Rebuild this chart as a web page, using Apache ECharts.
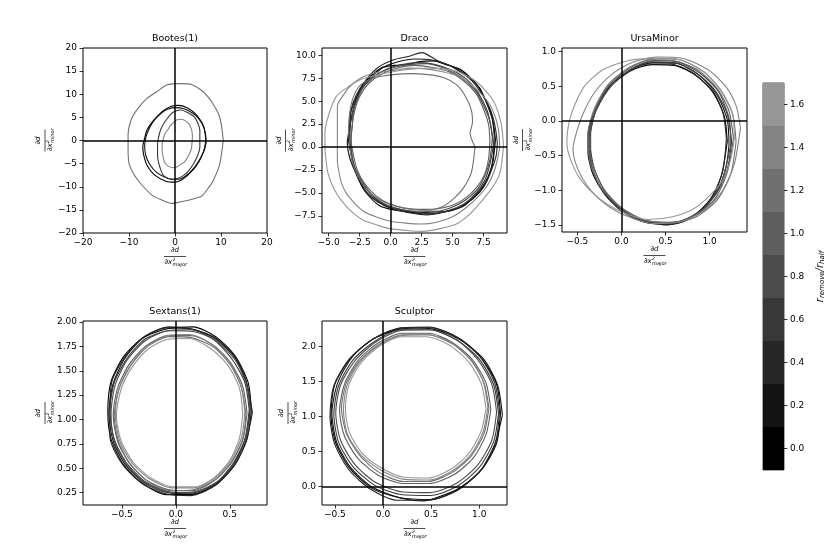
<!DOCTYPE html>
<html><head><meta charset="utf-8">
<script src="https://cdn.jsdelivr.net/npm/echarts@6/dist/echarts.min.js"></script>
<style>html,body{margin:0;padding:0;background:#fff}#c{width:830px;height:554px}</style>
</head><body><div id="c"></div>
<script>
// ---------- colour levels (r_remove / r_half) ----------
const levels = [0.0, 0.2, 0.4, 0.6, 0.8, 1.0, 1.2, 1.4, 1.6];
const levelLabels = ['0.0','0.2','0.4','0.6','0.8','1.0','1.2','1.4','1.6'];
const levelColors = ['#000000','#131313','#262626','#383838','#4b4b4b','#5e5e5e','#707070','#838383','#969696'];

// ---------- panel titles, ranges and ticks ----------
const panelTitles = ['Bootes(1)', 'Draco', 'UrsaMinor', 'Sextans(1)', 'Sculptor'];
const xRanges = [[-20, 20], [-5.54, 9.38], [-0.675, 1.424], [-0.86, 0.845], [-0.633, 1.288]];
const yRanges = [[-20, 20], [-9.38, 10.8], [-1.60, 1.05], [0.124, 2.01], [-0.267, 2.366]];
const xTicks = [[-20, -10, 0, 10, 20], [-5, -2.5, 0, 2.5, 5, 7.5], [-0.5, 0, 0.5, 1.0], [-0.5, 0, 0.5], [-0.5, 0, 0.5, 1.0]];
const yTicks = [[-20, -15, -10, -5, 0, 5, 10, 15, 20], [-7.5, -5, -2.5, 0, 2.5, 5, 7.5, 10], [-1.5, -1.0, -0.5, 0, 0.5, 1.0], [0.25, 0.5, 0.75, 1.0, 1.25, 1.5, 1.75, 2.0], [0, 0.5, 1.0, 1.5, 2.0]];
const xDecimals = [0, 1, 1, 1, 1];
const yDecimals = [0, 1, 1, 2, 1];

// ---------- Bootes(1) contours ----------
const bootes_r00 = [[6.7,0.2],[6.5,1.8],[6.3,2.9],[5.5,4.4],[4.3,5.9],[2.6,7.1],[0.8,7.6],[-0.8,7.4],[-2.3,6.6],[-3.7,5.4],[-5.1,3.8],[-6.1,2.2],[-6.6,0.5],[-7.0,-1.4],[-6.7,-3.6],[-6.0,-5.5],[-4.4,-7.5],[-2.0,-8.8],[0.0,-9.0],[1.5,-8.5],[3.3,-7.0],[4.6,-5.5],[5.7,-3.6],[6.4,-1.7],[6.7,0.2]];
const bootes_r02 = [[6.8,-0.3],[6.6,1.6],[6.0,3.4],[5.0,4.9],[3.7,6.0],[1.8,6.9],[0.2,7.1],[-1.5,6.8],[-3.0,5.9],[-4.5,4.4],[-5.6,2.6],[-6.3,0.8],[-6.6,-1.2],[-6.3,-3.4],[-5.4,-5.3],[-4.0,-6.9],[-2.3,-7.9],[-0.5,-8.4],[1.4,-8.2],[3.0,-7.1],[4.4,-5.6],[5.6,-3.7],[6.4,-2.0],[6.8,-0.3]];
const bootes_r06 = [[5.4,0.0],[5.4,2.2],[4.9,3.9],[4.2,5.1],[2.8,6.0],[1.3,6.6],[0.0,6.3],[-1.0,5.6],[-1.8,4.6],[-2.6,3.4],[-3.2,2.1],[-3.6,0.5],[-3.8,-1.1],[-3.8,-3.0],[-3.6,-4.7],[-3.1,-6.3],[-2.5,-7.6],[-1.5,-8.2],[-0.4,-8.4],[0.8,-8.1],[1.8,-7.6],[3.0,-6.5],[4.0,-5.1],[4.9,-3.3],[5.4,-1.4],[5.4,0.0]];
const bootes_r12 = [[10.5,0.0],[10.1,3.2],[9.6,5.4],[8.7,7.2],[7.6,8.9],[5.8,10.8],[3.6,12.1],[1.2,12.3],[-1.8,12.0],[-3.9,10.6],[-6.1,9.1],[-8.0,7.0],[-9.4,4.8],[-10.2,1.2],[-10.2,-1.5],[-10.0,-4.9],[-9.0,-7.2],[-7.5,-9.3],[-5.0,-11.8],[-3.0,-12.8],[-0.7,-13.6],[1.0,-13.3],[3.3,-12.8],[5.8,-12.0],[7.3,-10.2],[8.3,-8.7],[9.6,-5.6],[10.0,-3.6],[10.5,0.0]];
const bootes_r14 = [[3.8,0.9],[3.6,2.4],[3.1,3.5],[2.2,4.3],[1.3,4.6],[0.4,4.5],[-0.3,3.9],[-1.0,3.2],[-1.5,2.4],[-2.1,1.6],[-2.5,0.5],[-2.8,-0.8],[-2.8,-2.0],[-2.6,-3.5],[-2.2,-4.8],[-1.4,-5.6],[-0.4,-5.9],[0.6,-5.6],[1.4,-5.0],[1.9,-4.8],[2.8,-3.5],[3.5,-2.0],[3.7,-0.5],[3.8,0.9]];

// ---------- Draco contours ----------
const draco_r00 = [[8.45,0.8],[8.3,2.4],[8.05,3.9],[7.5,5.5],[7.0,6.7],[5.7,8.4],[4.4,9.0],[3.5,9.4],[2.2,9.3],[1.4,9.0],[0.3,8.9],[-0.8,8.6],[-2.2,6.9],[-2.8,5.2],[-3.1,3.6],[-3.3,2.2],[-3.4,0.8],[-3.2,-0.7],[-3.0,-2.0],[-2.6,-3.5],[-2.1,-4.8],[-0.9,-6.4],[0.4,-6.9],[1.6,-7.1],[2.8,-7.3],[3.8,-7.2],[5.0,-6.9],[6.0,-6.3],[7.2,-4.9],[7.8,-3.6],[8.2,-2.0],[8.45,0.8]];
const draco_r02 = [[8.35,1.2],[8.2,3.0],[7.7,4.9],[7.2,6.4],[6.1,7.9],[4.8,8.9],[3.3,9.5],[1.9,9.6],[0.6,9.3],[-0.6,8.7],[-1.9,7.2],[-2.7,5.6],[-3.2,3.9],[-3.3,2.3],[-3.5,0.5],[-3.3,-1.2],[-2.9,-2.6],[-2.4,-4.0],[-1.6,-5.4],[-0.5,-6.4],[0.7,-6.9],[2.0,-7.2],[3.2,-7.1],[4.5,-7.0],[5.8,-6.5],[6.8,-5.3],[7.6,-3.9],[8.1,-2.3],[8.3,-0.6],[8.35,1.2]];
const draco_r04 = [[8.6,0.5],[8.4,2.4],[8.0,4.2],[7.3,5.9],[6.4,7.4],[5.0,8.7],[3.8,9.4],[2.5,10.3],[1.5,9.9],[0.2,9.5],[-1.0,8.7],[-2.0,7.3],[-2.8,5.6],[-3.2,4.0],[-3.3,2.2],[-3.3,0.4],[-3.1,-1.4],[-2.6,-3.1],[-1.9,-4.6],[-1.0,-5.9],[0.3,-6.8],[1.6,-7.2],[2.9,-7.4],[4.3,-7.1],[5.5,-6.6],[6.6,-5.6],[7.5,-4.2],[8.1,-2.6],[8.5,-1.0],[8.6,0.5]];
const draco_r06 = [[8.3,0.3],[8.1,2.1],[7.8,3.9],[7.1,5.8],[6.2,7.3],[4.9,8.4],[3.6,9.0],[2.3,9.2],[0.9,9.0],[-0.3,8.5],[-1.5,7.5],[-2.4,6.2],[-2.9,4.6],[-3.2,3.0],[-3.3,1.3],[-3.2,-0.4],[-3.0,-2.0],[-2.5,-3.6],[-1.7,-5.0],[-0.6,-6.2],[0.8,-6.8],[2.1,-7.1],[3.4,-7.3],[4.7,-6.9],[5.9,-6.2],[6.9,-5.0],[7.6,-3.6],[8.0,-1.9],[8.3,0.3]];
const draco_r08 = [[8.2,1.0],[8.0,2.8],[7.5,4.5],[6.8,6.2],[5.7,7.6],[4.3,8.6],[2.9,9.1],[1.6,9.0],[0.3,8.7],[-0.9,8.1],[-2.0,7.0],[-2.6,5.5],[-3.0,3.9],[-3.1,2.3],[-3.2,0.7],[-3.1,-1.0],[-2.8,-2.6],[-2.2,-4.1],[-1.3,-5.5],[-0.2,-6.4],[1.1,-6.9],[2.4,-7.0],[3.7,-7.0],[4.9,-6.6],[6.0,-5.8],[7.0,-4.6],[7.6,-3.1],[8.0,-1.4],[8.2,1.0]];
const draco_r10 = [[8.0,0.6],[7.9,2.4],[7.5,4.1],[6.9,5.8],[5.9,7.2],[4.7,8.2],[3.3,8.7],[1.9,8.9],[0.5,8.6],[-0.7,8.0],[-1.8,6.9],[-2.5,5.5],[-2.9,4.0],[-3.1,2.4],[-3.2,0.8],[-3.0,-0.9],[-2.7,-2.5],[-2.1,-4.0],[-1.2,-5.3],[-0.1,-6.2],[1.2,-6.7],[2.6,-6.8],[3.9,-6.7],[5.1,-6.3],[6.1,-5.5],[7.0,-4.3],[7.6,-2.9],[7.9,-1.2],[8.0,0.6]];
const draco_r12 = [[6.8,0.0],[6.4,1.5],[6.6,2.7],[6.5,4.05],[6.0,5.6],[5.3,6.8],[4.2,7.6],[3.0,7.9],[1.6,8.0],[0.2,7.9],[-1.2,7.6],[-2.4,6.8],[-3.0,5.5],[-3.3,3.8],[-3.4,2.0],[-3.3,0.2],[-3.1,-1.6],[-2.6,-3.3],[-1.8,-4.8],[-0.7,-5.9],[0.6,-6.5],[1.9,-6.8],[3.0,-6.9],[4.2,-6.5],[5.1,-5.6],[5.8,-4.6],[6.4,-3.2],[6.6,-2.2],[6.8,0.0]];
const draco_r14 = [[8.8,0.0],[8.7,1.8],[8.5,3.0],[8.0,4.6],[7.3,5.8],[6.4,6.9],[5.5,7.7],[4.2,8.2],[3.0,8.5],[1.6,8.6],[0.5,8.4],[-1.2,8.1],[-2.3,7.6],[-3.3,6.6],[-3.9,5.5],[-4.3,4.5],[-4.3,3.0],[-4.3,1.5],[-4.3,0.0],[-4.3,-1.5],[-4.2,-2.5],[-4.0,-3.8],[-3.6,-5.0],[-3.0,-6.0],[-2.2,-7.0],[-1.2,-7.6],[0.0,-8.1],[1.2,-8.3],[2.5,-8.4],[3.7,-8.2],[5.0,-7.6],[6.1,-6.6],[7.0,-5.5],[7.8,-4.2],[8.3,-2.8],[8.6,-1.4],[8.8,0.0]];
const draco_r16 = [[9.1,0.0],[8.9,2.6],[8.25,5.1],[6.9,7.15],[5.3,8.25],[3.1,8.6],[1.0,8.4],[-0.9,7.9],[-2.5,7.3],[-3.6,6.4],[-4.4,5.5],[-5.05,3.3],[-5.3,1.5],[-5.3,0.0],[-5.2,-1.6],[-5.05,-2.9],[-4.6,-4.5],[-4.0,-5.8],[-3.2,-7.0],[-2.2,-8.0],[-1.1,-8.5],[-0.1,-8.9],[1.3,-9.1],[2.6,-9.2],[4.0,-8.9],[5.3,-8.4],[6.4,-7.3],[7.4,-5.8],[8.2,-4.4],[8.8,-2.9],[9.1,0.0]];

// ---------- UrsaMinor contours ----------
const umi_r00 = [[1.2,-0.3],[1.17,0.05],[1.05,0.4],[0.86,0.64],[0.6,0.8],[0.35,0.81],[0.1,0.72],[-0.12,0.5],[-0.27,0.2],[-0.36,-0.1],[-0.38,-0.45],[-0.32,-0.78],[-0.18,-1.06],[0.02,-1.28],[0.27,-1.44],[0.52,-1.5],[0.8,-1.38],[1.0,-1.14],[1.13,-0.8],[1.2,-0.3]];
const umi_r02 = [[1.22,-0.35],[1.2,0.02],[1.08,0.38],[0.88,0.66],[0.62,0.83],[0.36,0.84],[0.08,0.72],[-0.15,0.47],[-0.3,0.15],[-0.38,-0.2],[-0.36,-0.55],[-0.27,-0.9],[-0.1,-1.17],[0.12,-1.37],[0.38,-1.48],[0.65,-1.47],[0.89,-1.3],[1.07,-1.04],[1.18,-0.7],[1.22,-0.35]];
const umi_r04 = [[1.19,-0.25],[1.15,0.12],[1.02,0.44],[0.8,0.7],[0.55,0.82],[0.28,0.82],[0.03,0.68],[-0.18,0.44],[-0.31,0.1],[-0.37,-0.3],[-0.33,-0.7],[-0.2,-1.04],[0.0,-1.3],[0.26,-1.46],[0.56,-1.49],[0.83,-1.36],[1.03,-1.1],[1.15,-0.72],[1.19,-0.25]];
const umi_r06 = [[1.25,-0.3],[1.2,0.1],[1.06,0.44],[0.86,0.68],[0.6,0.84],[0.32,0.85],[0.06,0.7],[-0.16,0.46],[-0.3,0.12],[-0.36,-0.28],[-0.31,-0.68],[-0.18,-1.03],[0.04,-1.3],[0.3,-1.45],[0.6,-1.46],[0.87,-1.32],[1.07,-1.06],[1.2,-0.7],[1.25,-0.3]];
const umi_r08 = [[1.24,-0.35],[1.22,0.04],[1.1,0.42],[0.9,0.68],[0.64,0.85],[0.36,0.87],[0.1,0.74],[-0.12,0.5],[-0.28,0.18],[-0.35,-0.18],[-0.35,-0.55],[-0.25,-0.92],[-0.06,-1.2],[0.18,-1.4],[0.46,-1.47],[0.74,-1.42],[0.97,-1.22],[1.14,-0.86],[1.24,-0.35]];
const umi_r10 = [[1.27,-0.25],[1.22,0.14],[1.09,0.46],[0.88,0.72],[0.62,0.86],[0.34,0.88],[0.07,0.74],[-0.15,0.5],[-0.3,0.16],[-0.37,-0.22],[-0.33,-0.62],[-0.2,-0.98],[0.0,-1.25],[0.26,-1.43],[0.55,-1.47],[0.84,-1.36],[1.06,-1.12],[1.2,-0.74],[1.27,-0.25]];
const umi_r12 = [[1.3,-0.3],[1.26,0.1],[1.12,0.45],[0.92,0.72],[0.66,0.88],[0.38,0.9],[0.1,0.78],[-0.14,0.54],[-0.3,0.2],[-0.38,-0.18],[-0.36,-0.58],[-0.24,-0.95],[-0.02,-1.24],[0.25,-1.42],[0.55,-1.47],[0.85,-1.38],[1.09,-1.13],[1.24,-0.76],[1.3,-0.3]];
const umi_r14 = [[1.35,-0.1],[1.3,0.22],[1.18,0.5],[0.98,0.74],[0.7,0.9],[0.4,0.92],[0.12,0.84],[-0.12,0.66],[-0.3,0.42],[-0.42,0.15],[-0.5,-0.12],[-0.55,-0.4],[-0.5,-0.68],[-0.38,-0.95],[-0.18,-1.2],[0.08,-1.38],[0.38,-1.48],[0.68,-1.45],[0.95,-1.28],[1.15,-1.0],[1.28,-0.62],[1.35,-0.1]];
const umi_r16 = [[1.28,-0.25],[1.26,0.1],[1.14,0.42],[0.94,0.7],[0.66,0.88],[0.35,0.9],[0.05,0.86],[-0.22,0.73],[-0.42,0.5],[-0.54,0.2],[-0.6,-0.05],[-0.62,-0.3],[-0.58,-0.55],[-0.46,-0.85],[-0.25,-1.12],[0.02,-1.32],[0.3,-1.42],[0.58,-1.38],[0.8,-1.28],[0.98,-1.1],[1.15,-0.85],[1.24,-0.55],[1.28,-0.25]];

// ---------- Sextans(1) contours ----------
const sex_r00 = [[0.70,1.09],[0.67,1.38],[0.55,1.65],[0.37,1.85],[0.16,1.95],[-0.08,1.93],[-0.30,1.84],[-0.48,1.65],[-0.60,1.39],[-0.63,1.08],[-0.60,0.80],[-0.48,0.53],[-0.30,0.34],[-0.08,0.23],[0.15,0.23],[0.37,0.33],[0.55,0.54],[0.66,0.80],[0.70,1.09]];
const sex_r02 = [[0.69,1.12],[0.65,1.40],[0.53,1.66],[0.35,1.84],[0.14,1.93],[-0.09,1.94],[-0.31,1.83],[-0.47,1.63],[-0.58,1.37],[-0.62,1.06],[-0.58,0.78],[-0.47,0.54],[-0.29,0.35],[-0.07,0.25],[0.16,0.24],[0.38,0.35],[0.54,0.55],[0.65,0.82],[0.69,1.12]];
const sex_r04 = [[0.71,1.07],[0.66,1.36],[0.56,1.63],[0.38,1.83],[0.17,1.92],[-0.06,1.95],[-0.28,1.86],[-0.46,1.66],[-0.59,1.40],[-0.61,1.10],[-0.61,0.82],[-0.50,0.55],[-0.32,0.35],[-0.10,0.24],[0.14,0.22],[0.36,0.32],[0.53,0.52],[0.65,0.78],[0.71,1.07]];
const sex_r06 = [[0.68,1.10],[0.64,1.38],[0.52,1.62],[0.35,1.82],[0.14,1.92],[-0.08,1.91],[-0.29,1.82],[-0.45,1.63],[-0.57,1.38],[-0.61,1.09],[-0.57,0.80],[-0.46,0.56],[-0.28,0.36],[-0.06,0.26],[0.16,0.25],[0.37,0.35],[0.53,0.55],[0.64,0.80],[0.68,1.10]];
const sex_r08 = [[0.69,1.06],[0.66,1.34],[0.55,1.61],[0.37,1.81],[0.17,1.90],[-0.06,1.91],[-0.28,1.81],[-0.45,1.61],[-0.56,1.36],[-0.60,1.06],[-0.57,0.78],[-0.45,0.53],[-0.27,0.34],[-0.05,0.25],[0.17,0.26],[0.38,0.36],[0.55,0.56],[0.65,0.81],[0.69,1.06]];
const sex_r10 = [[0.66,1.07],[0.62,1.34],[0.51,1.58],[0.35,1.76],[0.15,1.86],[-0.07,1.86],[-0.27,1.76],[-0.43,1.57],[-0.54,1.32],[-0.58,1.05],[-0.54,0.78],[-0.43,0.55],[-0.26,0.37],[-0.06,0.28],[0.15,0.27],[0.35,0.37],[0.51,0.55],[0.62,0.79],[0.66,1.07]];
const sex_r12 = [[0.65,1.04],[0.61,1.32],[0.50,1.57],[0.34,1.75],[0.14,1.84],[-0.06,1.85],[-0.26,1.75],[-0.42,1.55],[-0.53,1.30],[-0.57,1.03],[-0.53,0.77],[-0.42,0.54],[-0.25,0.36],[-0.05,0.27],[0.16,0.28],[0.36,0.38],[0.52,0.57],[0.62,0.80],[0.65,1.04]];
const sex_r14 = [[0.64,1.08],[0.60,1.36],[0.49,1.60],[0.32,1.78],[0.12,1.87],[-0.08,1.86],[-0.28,1.74],[-0.43,1.54],[-0.53,1.30],[-0.56,1.04],[-0.52,0.78],[-0.41,0.56],[-0.24,0.39],[-0.04,0.30],[0.17,0.30],[0.36,0.40],[0.51,0.58],[0.61,0.82],[0.64,1.08]];
const sex_r16 = [[0.62,1.06],[0.59,1.32],[0.48,1.56],[0.32,1.73],[0.12,1.83],[-0.08,1.82],[-0.26,1.72],[-0.41,1.53],[-0.51,1.30],[-0.55,1.04],[-0.51,0.79],[-0.40,0.57],[-0.23,0.40],[-0.03,0.31],[0.17,0.31],[0.35,0.40],[0.50,0.58],[0.59,0.81],[0.62,1.06]];

// ---------- Sculptor contours ----------
const scl_r00 = [[1.22,1.05],[1.18,1.46],[1.02,1.84],[0.79,2.12],[0.50,2.27],[0.18,2.25],[-0.10,2.11],[-0.34,1.83],[-0.50,1.46],[-0.54,1.02],[-0.49,0.62],[-0.34,0.25],[-0.10,-0.04],[0.19,-0.17],[0.42,-0.21],[0.62,-0.13],[0.80,-0.02],[1.03,0.25],[1.18,0.62],[1.22,1.05]];
const scl_r02 = [[1.24,1.02],[1.19,1.45],[1.04,1.83],[0.80,2.10],[0.52,2.25],[0.20,2.27],[-0.09,2.12],[-0.32,1.85],[-0.47,1.48],[-0.53,1.05],[-0.48,0.63],[-0.33,0.26],[-0.11,-0.01],[0.17,-0.16],[0.50,-0.19],[0.78,-0.05],[1.01,0.22],[1.16,0.60],[1.24,1.02]];
const scl_r04 = [[1.21,1.08],[1.16,1.48],[1.01,1.85],[0.77,2.13],[0.48,2.28],[0.17,2.26],[-0.11,2.10],[-0.35,1.82],[-0.51,1.44],[-0.55,1.00],[-0.50,0.60],[-0.35,0.23],[-0.12,-0.05],[0.15,-0.20],[0.46,-0.20],[0.77,-0.06],[1.02,0.24],[1.17,0.63],[1.21,1.08]];
const scl_r06 = [[1.20,1.04],[1.15,1.45],[1.00,1.82],[0.77,2.09],[0.49,2.24],[0.19,2.24],[-0.08,2.08],[-0.31,1.81],[-0.46,1.44],[-0.51,1.03],[-0.46,0.63],[-0.31,0.28],[-0.08,0.01],[0.20,-0.12],[0.49,-0.13],[0.77,0.00],[1.00,0.27],[1.15,0.64],[1.20,1.04]];
const scl_r08 = [[1.18,1.06],[1.13,1.46],[0.98,1.82],[0.76,2.10],[0.48,2.24],[0.19,2.23],[-0.07,2.07],[-0.29,1.80],[-0.44,1.45],[-0.49,1.05],[-0.44,0.66],[-0.29,0.31],[-0.07,0.05],[0.21,-0.08],[0.49,-0.09],[0.76,0.04],[0.98,0.30],[1.13,0.66],[1.18,1.06]];
const scl_r10 = [[1.12,1.10],[1.07,1.48],[0.93,1.81],[0.72,2.06],[0.47,2.19],[0.20,2.19],[-0.05,2.05],[-0.26,1.80],[-0.40,1.46],[-0.45,1.08],[-0.40,0.72],[-0.26,0.40],[-0.05,0.16],[0.21,0.04],[0.48,0.04],[0.74,0.17],[0.94,0.41],[1.07,0.74],[1.12,1.10]];
const scl_r12 = [[1.10,1.12],[1.05,1.48],[0.92,1.80],[0.72,2.04],[0.47,2.17],[0.21,2.17],[-0.03,2.04],[-0.24,1.80],[-0.38,1.48],[-0.43,1.12],[-0.38,0.76],[-0.24,0.44],[-0.04,0.20],[0.21,0.07],[0.47,0.07],[0.72,0.20],[0.92,0.44],[1.05,0.76],[1.10,1.12]];
const scl_r14 = [[1.09,1.14],[1.04,1.50],[0.91,1.81],[0.71,2.05],[0.46,2.17],[0.20,2.16],[-0.04,2.02],[-0.24,1.78],[-0.37,1.46],[-0.41,1.10],[-0.37,0.75],[-0.23,0.45],[-0.02,0.23],[0.22,0.10],[0.48,0.09],[0.72,0.22],[0.91,0.45],[1.04,0.78],[1.09,1.14]];
const scl_r16 = [[1.07,1.12],[1.02,1.47],[0.89,1.78],[0.69,2.02],[0.45,2.14],[0.20,2.14],[-0.03,2.01],[-0.22,1.78],[-0.35,1.47],[-0.39,1.12],[-0.35,0.78],[-0.22,0.48],[-0.01,0.26],[0.22,0.13],[0.47,0.12],[0.70,0.24],[0.89,0.47],[1.02,0.79],[1.07,1.12]];

// [level index, contour]
const panelCurves = [
  [[0, bootes_r00], [1, bootes_r02], [3, bootes_r06], [6, bootes_r12], [7, bootes_r14]],
  [[0, draco_r00], [1, draco_r02], [2, draco_r04], [3, draco_r06], [4, draco_r08], [5, draco_r10], [6, draco_r12], [7, draco_r14], [8, draco_r16]],
  [[0, umi_r00], [1, umi_r02], [2, umi_r04], [3, umi_r06], [4, umi_r08], [5, umi_r10], [6, umi_r12], [7, umi_r14], [8, umi_r16]],
  [[0, sex_r00], [1, sex_r02], [2, sex_r04], [3, sex_r06], [4, sex_r08], [5, sex_r10], [6, sex_r12], [7, sex_r14], [8, sex_r16]],
  [[0, scl_r00], [1, scl_r02], [2, scl_r04], [3, scl_r06], [4, scl_r08], [5, scl_r10], [6, scl_r12], [7, scl_r14], [8, scl_r16]]
];
const zeroLines = [['x', 'y'], ['x', 'y'], ['x', 'y'], ['x'], ['x', 'y']];

// ---------- layout (pixels) ----------
const boxes = [
  { left: 83, top: 48, width: 184, height: 185 },
  { left: 322, top: 48, width: 185, height: 185 },
  { left: 562, top: 48, width: 185, height: 184 },
  { left: 83, top: 321, width: 184, height: 184 },
  { left: 322, top: 321, width: 185, height: 184 }
];
const yLabelOffset = [38, 36.5, 39.5, 38, 34];
const cbBox = { left: 763, top: 83, width: 21, height: 387 };

const FONT = 'DejaVu Sans';
const fmt = (v, d) => (v < 0 ? '\u2212' : '') + Math.abs(v).toFixed(d);

function fracLabel(gx, gy, rot, sub) {
  const t = (text, x, y, size, align) => ({
    type: 'text', x, y, silent: true,
    style: { text, fontSize: size, fontFamily: FONT, fontStyle: 'italic', fill: '#000',
      textAlign: align, align, textVerticalAlign: 'middle', verticalAlign: 'middle' }
  });
  return {
    type: 'group', x: gx, y: gy, rotation: rot, silent: true,
    children: [
      t('\u2202d', 0, -6.5, 7, 'center'),
      { type: 'line', silent: true, shape: { x1: -11, y1: 0, x2: 11, y2: 0 }, style: { stroke: '#000', lineWidth: 0.7 } },
      t('\u2202x', -2.8, 5.5, 7, 'right'),
      t('2', -2.6, 3.0, 4.5, 'left'),
      t(sub, -2.4, 8.0, 5, 'left')
    ]
  };
}

const grids = [], xAxes = [], yAxes = [], series = [], graphics = [];
boxes.forEach((b, i) => {
  grids.push(Object.assign({ show: true, borderColor: '#000', borderWidth: 1, backgroundColor: 'transparent', containLabel: false }, b));
  const axisCommon = (ticks, dec) => ({
    type: 'value',
    gridIndex: i,
    axisLine: { show: false, onZero: false },
    splitLine: { show: false },
    axisTick: { show: true, length: 3.5, inside: false, customValues: ticks, lineStyle: { color: '#000', width: 0.8 } },
    axisLabel: { show: true, customValues: ticks, formatter: v => fmt(v, dec), fontSize: 9, fontFamily: FONT, color: '#000', showMinLabel: true, showMaxLabel: true }
  });
  const xa = axisCommon(xTicks[i], xDecimals[i]);
  xa.min = xRanges[i][0]; xa.max = xRanges[i][1]; xa.position = 'bottom';
  xa.axisLabel.margin = 5;
  const ya = axisCommon(yTicks[i], yDecimals[i]);
  ya.min = yRanges[i][0]; ya.max = yRanges[i][1]; ya.position = 'left';
  ya.axisLabel.margin = 6;
  xAxes.push(xa); yAxes.push(ya);

  panelCurves[i].forEach(([lv, pts]) => {
    series.push({
      type: 'line', xAxisIndex: i, yAxisIndex: i, data: pts,
      showSymbol: false, symbol: 'none', smooth: 0.25, silent: true,
      lineStyle: { color: levelColors[lv], width: 1.1 }, z: 2
    });
  });
  const ml = zeroLines[i].map(a => (a === 'x' ? { xAxis: 0 } : { yAxis: 0 }));
  series.push({
    type: 'line', xAxisIndex: i, yAxisIndex: i, data: [], silent: true, z: 5,
    markLine: { silent: true, symbol: ['none', 'none'], label: { show: false }, animation: false,
      lineStyle: { color: '#000', width: 1.5, type: 'solid' }, data: ml }
  });

  const cx = b.left + b.width / 2, cy = b.top + b.height / 2;
  graphics.push({ type: 'text', x: cx, y: b.top - 9, silent: true,
    style: { text: panelTitles[i], fontSize: 9.5, fontFamily: FONT, fill: '#000', textAlign: 'center', align: 'center', textVerticalAlign: 'middle', verticalAlign: 'middle' } });
  graphics.push(fracLabel(cx, b.top + b.height + 23.5, 0, 'major'));
  graphics.push(fracLabel(b.left - yLabelOffset[i], cy, Math.PI / 2, 'minor'));
});

// ---------- colour bar ----------
grids.push(Object.assign({ show: true, borderColor: '#222', borderWidth: 0.8, backgroundColor: 'transparent' }, cbBox));
xAxes.push({ type: 'value', gridIndex: 5, min: 0, max: 1, show: false });
yAxes.push({
  type: 'category', gridIndex: 5, data: levelLabels, position: 'right', boundaryGap: true,
  axisLine: { show: false, onZero: false }, splitLine: { show: false },
  axisTick: { show: true, alignWithLabel: true, length: 3.5, lineStyle: { color: '#000', width: 0.8 } },
  axisLabel: { fontSize: 9, fontFamily: FONT, color: '#000', margin: 6 },
  name: '{i|r}{s|remove}{i|/r}{s|half}', nameLocation: 'middle', nameRotate: 90, nameGap: 30,
  nameTextStyle: { rich: {
    i: { fontSize: 10, fontStyle: 'italic', fontFamily: FONT, color: '#000' },
    s: { fontSize: 7, fontStyle: 'italic', fontFamily: FONT, color: '#000', verticalAlign: 'bottom', padding: [5, 0, 0, 0] }
  } }
});
series.push({
  type: 'bar', xAxisIndex: 5, yAxisIndex: 5, barWidth: '100%', silent: true,
  data: levels.map((lv, k) => ({ value: 1, itemStyle: { color: levelColors[k] } }))
});

const chart = echarts.init(document.getElementById('c'), null, { renderer: 'canvas' });
chart.setOption({
  animation: false,
  backgroundColor: '#fff',
  grid: grids, xAxis: xAxes, yAxis: yAxes, series, graphic: graphics
});
</script></body></html>
